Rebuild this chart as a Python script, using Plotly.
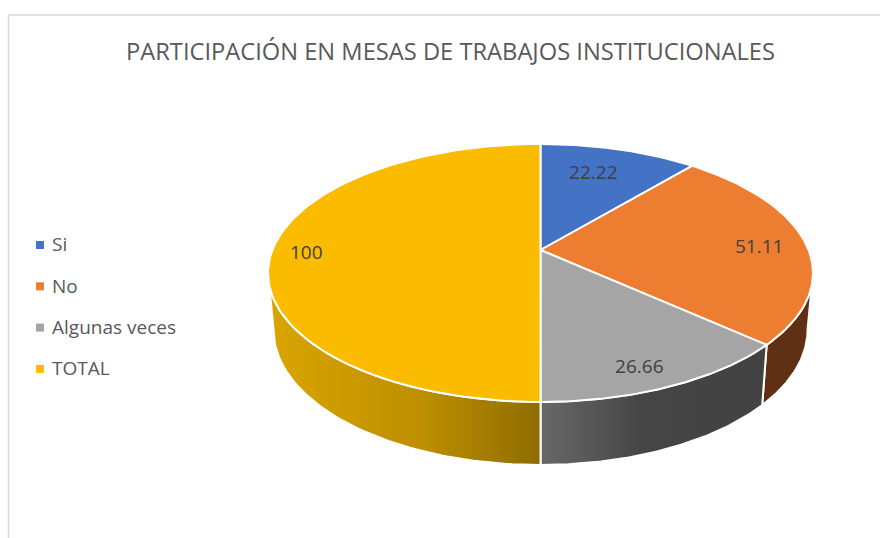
import numpy as np
import plotly.graph_objects as go

# values
categories = ["Si", "No", "Algunas veces", "TOTAL"]
values = [22.22, 51.11, 26.66, 100]

title = "PARTICIPACIÓN EN MESAS DE TRABAJOS INSTITUCIONALES"

top_colors = ["#4472C4", "#ED7D31", "#A5A5A5", "#FBBC00"]
wall_scales = [
    None,
    [[0, "#5F3013"], [1, "#5F3013"]],
    [[0, "#686868"], [0.45, "#454545"], [1, "#424242"]],
    [[0, "#DAA500"], [0.55, "#BE9000"], [1, "#8E6C00"]],
]

# how far out along each slice's middle the label sits, and a small nudge in px
label_radius = [0.746, 0.83, 0.872, 0.87]
label_nudge = [(-8, 2), (-1, 5), (-12, 2), (-1, 4)]

# tilted disc, in pixels
CX, K = 540.5, 0.178
TOP_Y, TOP_RX, TOP_RY = 250, 268.1, 124.9
BOT_Y, BOT_RX, BOT_RY = 305.6, 262.8, 131
TANGENT = np.degrees(np.arccos(-K))


def project(deg, r=1.0, y0=TOP_Y, rx=TOP_RX, ry=TOP_RY):
    t = np.radians(deg)
    s = 1 / (1 + K * r * np.cos(t))
    return CX + rx * r * np.sin(t) * s, y0 - ry * r * np.cos(t) * s


edges = np.concatenate([[0], np.cumsum(values)]) / np.sum(values) * 360
fig = go.Figure()

# side walls go first, the top faces cover their upper edge
for i, name in enumerate(categories):
    start, end = max(edges[i], TANGENT), min(edges[i + 1], 360 - TANGENT)
    if start >= end:
        continue
    t = np.linspace(start, end, 80)
    x1, y1 = project(t)
    x2, y2 = project(t[::-1], 1.0, BOT_Y, BOT_RX, BOT_RY)
    fig.add_trace(
        go.Scatter(
            x=np.concatenate([x1, x2, x1[:1]]),
            y=np.concatenate([y1, y2, y1[:1]]),
            mode="lines",
            fill="toself",
            fillgradient=dict(type="horizontal", colorscale=wall_scales[i]),
            line=dict(color="white", width=2),
            hoverinfo="skip",
            showlegend=False,
        )
    )

for i, name in enumerate(categories):
    t = np.linspace(edges[i], edges[i + 1], 120)
    x, y = project(t)
    fig.add_trace(
        go.Scatter(
            x=np.concatenate([[CX], x, [CX]]),
            y=np.concatenate([[TOP_Y], y, [TOP_Y]]),
            mode="lines",
            fill="toself",
            fillcolor=top_colors[i],
            line=dict(color="white", width=2),
            name=name,
            text=f"{name}: {values[i]}",
            hoverinfo="text",
            showlegend=False,
        )
    )

# slice labels
mids = (edges[:-1] + edges[1:]) / 2
lx, ly = project(mids, np.array(label_radius))
fig.add_trace(
    go.Scatter(
        x=lx + np.array([n[0] for n in label_nudge]),
        y=ly + np.array([n[1] for n in label_nudge]),
        mode="text",
        text=[str(v) for v in values],
        textposition="middle center",
        textfont=dict(family="Open Sans", size=19, color="#404040"),
        hoverinfo="skip",
        showlegend=False,
    )
)

# legend drawn by hand, plotly's own cannot get this tight marker/text gap
legend_y = [245 + 41.3 * i for i in range(len(categories))]
fig.add_trace(
    go.Scatter(
        x=[40] * len(categories),
        y=legend_y,
        mode="markers",
        marker=dict(symbol="square", size=8, color=top_colors),
        hoverinfo="skip",
        showlegend=False,
    )
)
fig.add_trace(
    go.Scatter(
        x=[52] * len(categories),
        y=[v + 1.5 for v in legend_y],
        mode="text",
        text=categories,
        textposition="middle right",
        textfont=dict(family="Open Sans", size=19, color="#595959"),
        hoverinfo="skip",
        showlegend=False,
    )
)

fig.update_layout(
    width=880,
    height=538,
    margin=dict(l=0, r=0, t=0, b=0),
    paper_bgcolor="white",
    plot_bgcolor="white",
    showlegend=False,
    title=dict(
        text=title,
        x=450.5 / 880,
        y=1 - 52 / 538,
        xanchor="center",
        yanchor="middle",
        font=dict(family="Open Sans", size=23.7, color="#595959"),
    ),
    xaxis=dict(range=[0, 880], visible=False, fixedrange=True),
    yaxis=dict(range=[538, 0], visible=False, fixedrange=True),
    shapes=[
        dict(type="line", x0=8.5, x1=880, y0=15, y1=15, line=dict(color="#D9D9D9", width=1.5)),
        dict(type="line", x0=8.5, x1=8.5, y0=15, y1=538, line=dict(color="#D9D9D9", width=1.5)),
    ],
)

# page body has a default margin that would push the chart 8px in
fig.write_html(
    "out.html",
    config={"displayModeBar": False},
    post_script="document.body.style.margin='0';document.body.style.overflow='hidden';",
)
